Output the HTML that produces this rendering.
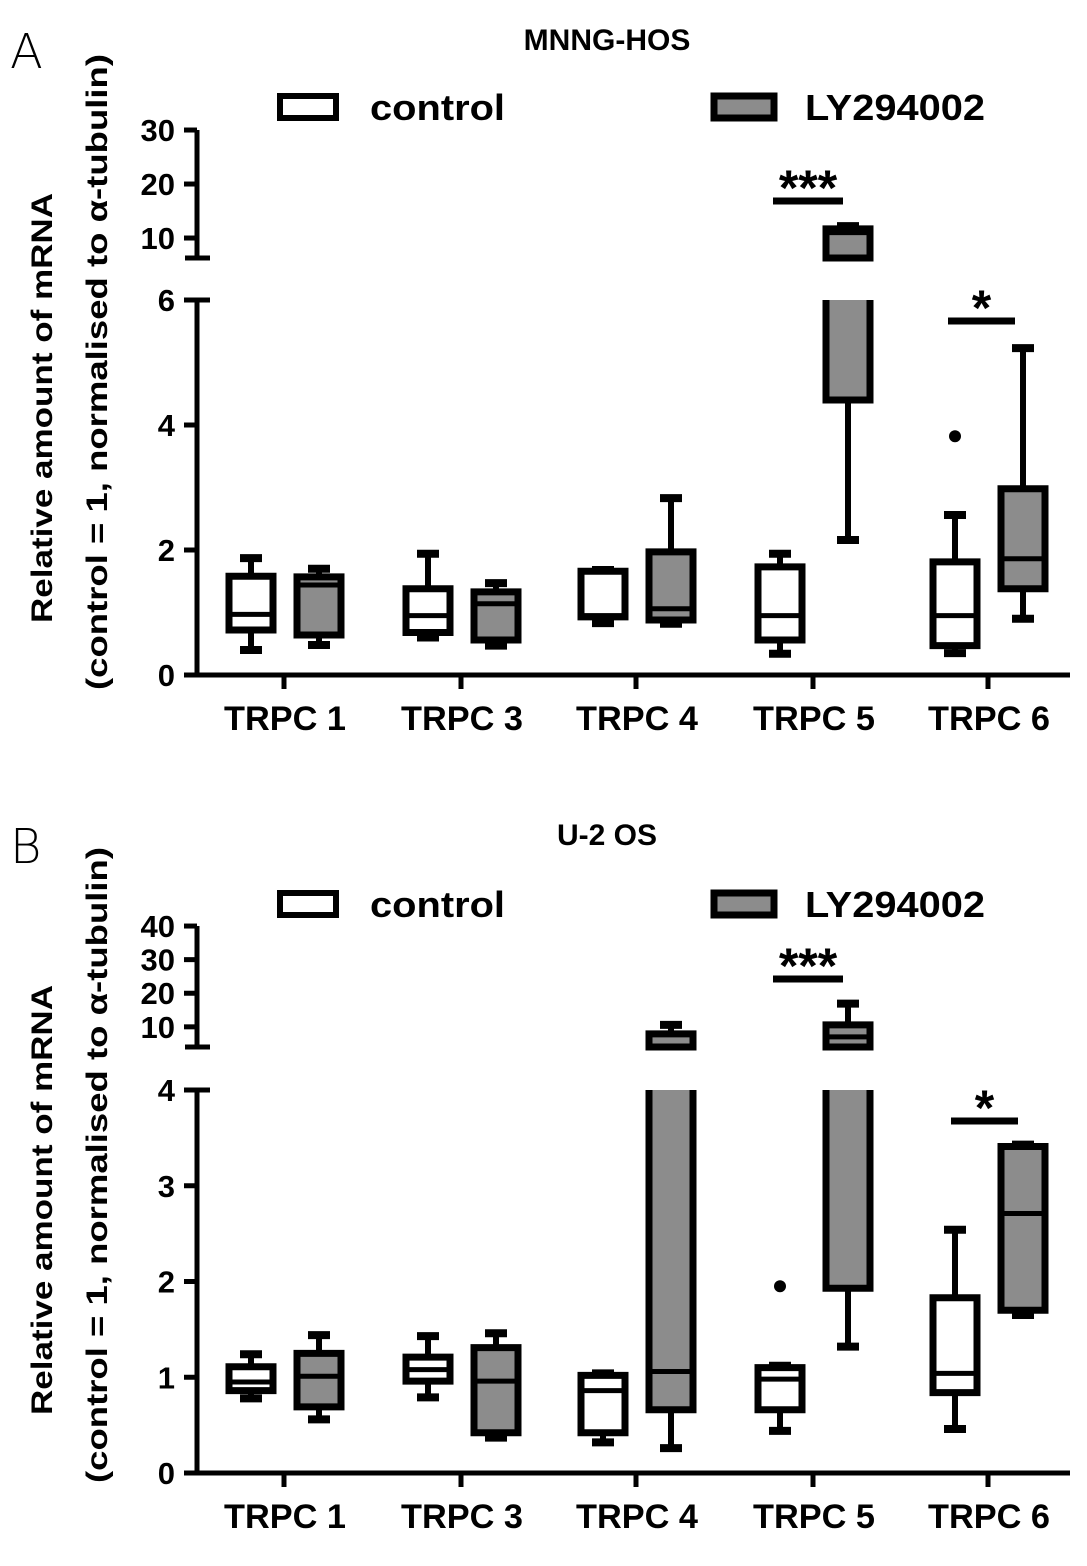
<!DOCTYPE html>
<html><head><meta charset="utf-8"><style>
html,body{margin:0;padding:0;background:#fff;}
svg{display:block;font-family:"Liberation Sans",Arial,sans-serif;}
</style></head><body>
<svg id="fig" width="1087" height="1566" viewBox="0 0 1087 1566" xmlns="http://www.w3.org/2000/svg"></svg>
<script>
const categories = ["TRPC 1","TRPC 3","TRPC 4","TRPC 5","TRPC 6"];
// panel A (MNNG-HOS): [whiskerLo, q1, median, q3, whiskerHi]
const aControl = [[0.40,0.72,0.97,1.58,1.87],[0.60,0.68,0.95,1.38,1.94],[0.83,0.93,0.95,1.66,1.68],[0.34,0.56,0.95,1.73,1.94],[0.35,0.47,0.95,1.81,2.56]];
const aLY = [[0.48,0.64,1.44,1.57,1.70],[0.47,0.56,1.14,1.33,1.47],[0.82,0.88,1.06,1.97,2.83],[2.16,4.40,11.0,11.7,12.2],[0.90,1.38,1.86,2.98,5.23]];
const aOutCtrl = [null,null,null,null,3.82];
const aOutLY = [null,null,null,null,null];
const aLowTicks = [0,2,4,6];
const aHighTicks = [10,20,30];
// panel B (U-2 OS)
const bControl = [[0.78,0.86,0.95,1.11,1.24],[0.79,0.96,1.08,1.21,1.43],[0.32,0.42,0.86,1.02,1.04],[0.44,0.66,0.98,1.10,1.12],[0.46,0.84,1.04,1.83,2.54]];
const bLY = [[0.56,0.69,1.01,1.25,1.44],[0.37,0.42,0.96,1.31,1.46],[0.26,0.66,1.06,7.9,10.6],[1.32,1.93,7.0,10.6,16.9],[1.65,1.70,2.71,3.41,3.43]];
const bOutCtrl = [null,null,null,1.95,null];
const bOutLY = [null,null,null,null,null];
const bLowTicks = [0,1,2,3,4];
const bHighTicks = [10,20,30,40];

const NS="http://www.w3.org/2000/svg";
const svg=document.getElementById('fig');
function mk(tag,attrs,parent,txt){const e=document.createElementNS(NS,tag);for(const k in attrs)e.setAttribute(k,attrs[k]);if(txt!==undefined)e.textContent=txt;(parent||svg).appendChild(e);return e;}

function panel(cfg){
  const g=mk('g',{});
  
  
  const axX=197;
  const xc=[284,461,636,813,988];
  function yL(v){return cfg.y0-(v/cfg.lowMax)*(cfg.y0-cfg.yLowTop);}
  function yU(v){return cfg.yUpBot-(v-cfg.upMin)*cfg.upSlope;}
  function y(v){return v<=cfg.lowMax?yL(v):(v>=cfg.upMin?yU(v):null);}
  const segs=[[0,cfg.lowMax,yL,false],[cfg.upMin,1e9,yU,true]];
  let ax=mk('line',{x1:axX,y1:cfg.y0,x2:axX,y2:cfg.yLowTop,stroke:'#000','stroke-width':5},g);
  
  ax=mk('line',{x1:axX,y1:cfg.yUpBot,x2:axX,y2:yU(cfg.highTicks[cfg.highTicks.length-1]),stroke:'#000','stroke-width':5},g);
  
  mk('line',{x1:axX-12,y1:cfg.yLowTop,x2:axX+13,y2:cfg.yLowTop,stroke:'#000','stroke-width':5},g);
  mk('line',{x1:axX-12,y1:cfg.yUpBot,x2:axX+13,y2:cfg.yUpBot,stroke:'#000','stroke-width':5},g);
  ax=mk('line',{x1:axX-2,y1:cfg.y0,x2:1070,y2:cfg.y0,stroke:'#000','stroke-width':5},g);
  
  cfg.lowTicks.forEach(t=>{const yy=yL(t);
    mk('line',{x1:axX-13,y1:yy,x2:axX,y2:yy,stroke:'#000','stroke-width':5},g);
    const tx=mk('text',{x:axX-22,y:yy+11,'text-anchor':'end','font-size':31,'font-weight':'bold'},g,String(t));
    });
  cfg.highTicks.forEach(t=>{const yy=yU(t);
    mk('line',{x1:axX-13,y1:yy,x2:axX,y2:yy,stroke:'#000','stroke-width':5},g);
    const tx=mk('text',{x:axX-22,y:yy+11,'text-anchor':'end','font-size':31,'font-weight':'bold'},g,String(t));
    });
  categories.forEach((c,i)=>{
    mk('line',{x1:xc[i],y1:cfg.y0,x2:xc[i],y2:cfg.y0+14,stroke:'#000','stroke-width':5},g);
    const tx=mk('text',{x:xc[i]+1,y:cfg.y0+55,'text-anchor':'middle','font-size':34,'font-weight':'bold',textLength:122,lengthAdjust:'spacingAndGlyphs'},g,c);
    
  });
  function vline(x,a,b,gg){
    segs.forEach(s=>{const lo=Math.max(a,s[0]),hi=Math.min(b,s[1]);if(lo<hi)mk('line',{x1:x,y1:s[2](lo),x2:x,y2:s[2](hi),stroke:'#000','stroke-width':6},gg);});
  }
  function box(d,cx,fill,name){
    const bg=mk('g',{},g);
    
    
    const [wl,q1,md,q3,wh]=d;const w=44,hw=w/2;
    vline(cx,wl,q1,bg);vline(cx,q3,wh,bg);
    mk('line',{x1:cx-11,y1:y(wl),x2:cx+11,y2:y(wl),stroke:'#000','stroke-width':8},bg);
    mk('line',{x1:cx-11,y1:y(wh),x2:cx+11,y2:y(wh),stroke:'#000','stroke-width':8},bg);
    segs.forEach(s=>{const lo=Math.max(q1,s[0]),hi=Math.min(q3,s[1]);if(lo>=hi)return;
      const yb=s[2](lo),yt=s[2](hi);
      mk('rect',{x:cx-hw,y:yt,width:w,height:yb-yt,fill:fill},bg);
      mk('line',{x1:cx-hw,y1:yt,x2:cx-hw,y2:yb,stroke:'#000','stroke-width':7},bg);
      mk('line',{x1:cx+hw,y1:yt,x2:cx+hw,y2:yb,stroke:'#000','stroke-width':7},bg);
      mk('line',{x1:cx-hw-3.5,y1:yb,x2:cx+hw+3.5,y2:yb,stroke:'#000','stroke-width':7},bg);
      if(hi===q3)mk('line',{x1:cx-hw-3.5,y1:yt,x2:cx+hw+3.5,y2:yt,stroke:'#000','stroke-width':7},bg);
    });
    const ym=y(md);if(ym!==null)mk('line',{x1:cx-hw,y1:ym,x2:cx+hw,y2:ym,stroke:'#000','stroke-width':5},bg);
  }
  categories.forEach((c,i)=>{
    box(cfg.ctrl[i],xc[i]-33,'#fff','box-control-'+(i));
    box(cfg.ly[i],xc[i]+35,'#8c8c8c','box-ly294002-'+(i));
    if(cfg.outC[i]!==null){const d=mk('circle',{cx:xc[i]-33,cy:y(cfg.outC[i]),r:6,fill:'#000'},g);}
    if(cfg.outL[i]!==null){const d=mk('circle',{cx:xc[i]+35,cy:y(cfg.outL[i]),r:6,fill:'#000'},g);}
  });
  cfg.sig.forEach(s=>{
    const l=mk('line',{x1:s.x1,y1:s.y,x2:s.x2,y2:s.y,stroke:'#000','stroke-width':7},g);
    
    const t=mk('text',{x:(s.x1+s.x2)/2,y:s.y+4,'text-anchor':'middle','font-size':50,'font-weight':'bold'},g,s.t);
    
  });
  const ly=cfg.legY;
  let r=mk('rect',{x:280,y:ly,width:56,height:22,fill:'#fff',stroke:'#000','stroke-width':6},g);
  
  let t=mk('text',{x:370,y:ly+24,'font-size':36,'font-weight':'bold',textLength:135,lengthAdjust:'spacingAndGlyphs'},g,'control');
  
  r=mk('rect',{x:714,y:ly,width:60,height:22,fill:'#8c8c8c',stroke:'#000','stroke-width':7},g);
  
  t=mk('text',{x:805,y:ly+24,'font-size':36,'font-weight':'bold',textLength:180,lengthAdjust:'spacingAndGlyphs'},g,'LY294002');
  
  t=mk('text',{x:607,y:cfg.titleY,'text-anchor':'middle','font-size':30,'font-weight':'bold'},g,cfg.title);
  
  t=mk('text',{x:10,y:cfg.titleY+18,'font-size':48,'font-family':'"DejaVu Sans", sans-serif','font-weight':'200'},g,cfg.letter);
  
  t=mk('text',{x:0,y:0,transform:`translate(52,${cfg.yt1}) rotate(-90)`,'text-anchor':'middle','font-size':30,'font-weight':'bold',textLength:430,lengthAdjust:'spacingAndGlyphs'},g,'Relative amount of mRNA');
  
  t=mk('text',{x:0,y:0,transform:`translate(107,${cfg.yt2}) rotate(-90)`,'text-anchor':'middle','font-size':30,'font-weight':'bold',textLength:636,lengthAdjust:'spacingAndGlyphs'},g,'(control = 1, normalised to \u03b1-tubulin)');
  
}
panel({name:'panel-a-mnng-hos',y0:675,yLowTop:300,lowMax:6,yUpBot:258,upMin:6.3,upSlope:5.4,lowTicks:aLowTicks,highTicks:aHighTicks,
  ctrl:aControl,ly:aLY,outC:aOutCtrl,outL:aOutLY,legY:96,title:'MNNG-HOS',titleY:50,letter:'A',yt1:408,yt2:372,
  sig:[{x1:773,x2:843,y:201,t:'***'},{x1:948,x2:1015,y:321,t:'*'}]});
panel({name:'panel-b-u2-os',y0:1473,yLowTop:1090,lowMax:4,yUpBot:1047,upMin:4,upSlope:3.36,lowTicks:bLowTicks,highTicks:bHighTicks,
  ctrl:bControl,ly:bLY,outC:bOutCtrl,outL:bOutLY,legY:893,title:'U-2 OS',titleY:845,letter:'B',yt1:1200,yt2:1165,
  sig:[{x1:773,x2:843,y:979,t:'***'},{x1:951,x2:1018,y:1121,t:'*'}]});
</script>
</body></html>
